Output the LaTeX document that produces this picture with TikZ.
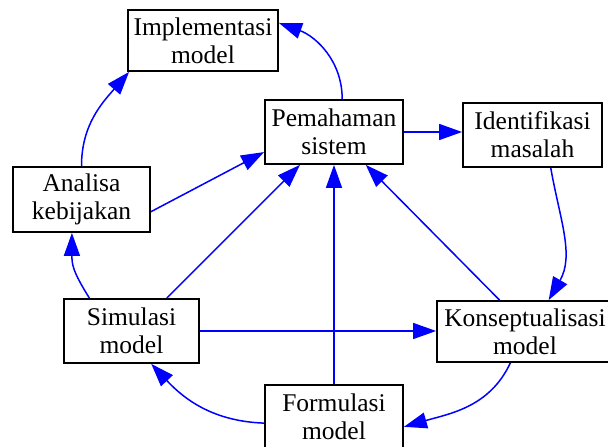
\documentclass[tikz,border=0pt]{standalone}
\usepackage{fontspec}
\setmainfont{Liberation Serif}
\usepackage{tikz}
\usetikzlibrary{arrows.meta,calc}
\definecolor{edge}{RGB}{0,0,255}

\begin{document}
\begin{tikzpicture}[x=1pt,y=1pt,
  box/.style={draw=black,line width=1.8pt,align=center,inner sep=0pt,
    minimum height=64pt,font=\fontsize{25.5}{28}\selectfont},
  arr/.style={draw=edge,line width=1.5pt,-{Triangle[length=23pt,width=16pt]}}]
\useasboundingbox (0,0) rectangle (608,447);
\node[box,minimum width=150pt,minimum height=61pt] (impl) at (203,406.5) {Implementasi\\model};
\node[box,minimum width=138pt] (pem) at (334,315) {Pemahaman\\sistem};
\node[box,minimum width=139pt] (ident) at (532.5,312) {Identifikasi\\masalah};
\node[box,minimum width=137pt,minimum height=65pt] (analisa) at (81.5,247.5) {Analisa\\kebijakan};
\node[box,minimum width=135pt] (sim) at (131.5,116) {Simulasi\\model};
\node[box,minimum width=176pt,minimum height=61pt] (konsep) at (525,115.5) {Konseptualisasi\\model};
\node[box,minimum width=138pt] (form) at (334,30) {Formulasi\\model};
% lengkung
\draw[arr] (pem.76) to[out=90,in=-20] (impl.13);
\draw[arr] (analisa.north) to[out=90,in=229] ([xshift=2pt]impl.south west);
\draw[arr] (ident.-61) to[out=-80,in=60] (konsep.53);
\draw[arr] (sim.142) to[out=122,in=-90,looseness=1.2] (analisa.-106);
\draw[arr] (konsep.245) to[out=-115,in=16] (form.-8);
\draw[arr] (form.-175) to[out=178,in=-47] (sim.-59);
% lurus
\draw[arr] (analisa.-10) -- (pem.196);
\draw[arr] (pem.east) -- (pem.east -| ident.west);
\draw[arr] (konsep.129) -- (pem.-46);
\draw[arr] (form.north) -- (pem.south);
\draw[arr] (sim.43) -- (pem.224);
\draw[arr] (sim.east) -- (sim.east -| konsep.west);
\end{tikzpicture}
\end{document}
